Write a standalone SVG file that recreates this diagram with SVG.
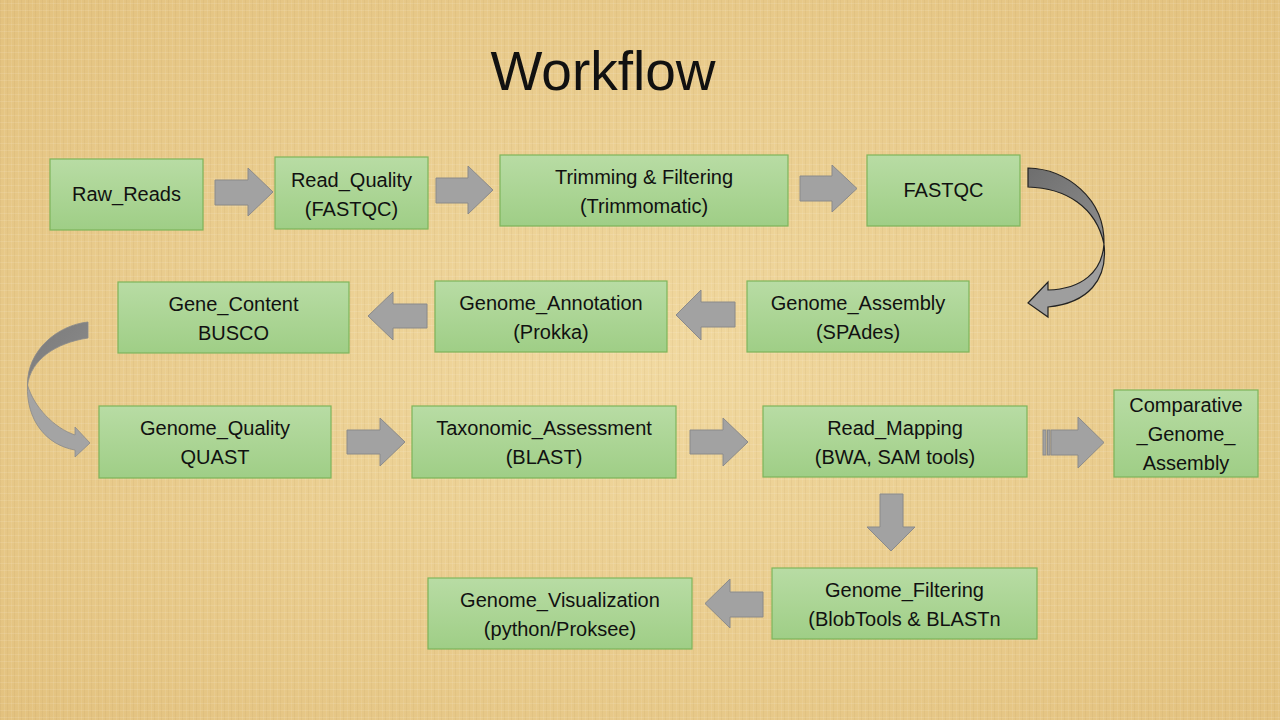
<svg xmlns="http://www.w3.org/2000/svg" width="1280" height="720" viewBox="0 0 1280 720">
<defs>
  <radialGradient id="bg" cx="50%" cy="50%" r="75%">
    <stop offset="0" stop-color="#f1d9a0"/>
    <stop offset="1" stop-color="#e2c07c"/>
  </radialGradient>
  <pattern id="tex" width="7" height="7" patternUnits="userSpaceOnUse">
    <rect x="0" y="0" width="1" height="7" fill="#b8925a" opacity="0.12"/>
    <rect x="0" y="3" width="7" height="1" fill="#ffffff" opacity="0.10"/>
    <rect x="4" y="0" width="1" height="7" fill="#ffffff" opacity="0.08"/>
  </pattern>
  <linearGradient id="green" x1="0" y1="0" x2="0" y2="1">
    <stop offset="0" stop-color="#b8dca4"/>
    <stop offset="1" stop-color="#9fce86"/>
  </linearGradient>
  <linearGradient id="curveDark" x1="0" y1="0" x2="1" y2="1">
    <stop offset="0" stop-color="#6e6e6e"/>
    <stop offset="1" stop-color="#8e8e8e"/>
  </linearGradient>
  <linearGradient id="curveLeft" x1="0" y1="0" x2="1" y2="1">
    <stop offset="0" stop-color="#7a7a7a"/>
    <stop offset="1" stop-color="#8c8c8c"/>
  </linearGradient>
  <style>
    .node rect { fill: url(#green); stroke: #7eb55a; stroke-width: 1.2; }
    .node text { font-family: "Liberation Sans", Arial, sans-serif; font-size: 20px; fill: #111; text-anchor: middle; }
    .arr { fill: #a2a2a2; stroke: #8a8a8a; stroke-width: 1; }
    .title { font-family: "Liberation Sans", Arial, sans-serif; font-size: 55px; fill: #111; text-anchor: middle; }
  </style>
</defs>

<rect x="0" y="0" width="1280" height="720" fill="url(#bg)"/>
<rect x="0" y="0" width="1280" height="720" fill="url(#tex)"/>

<text class="title" x="603" y="90">Workflow</text>

<g id="connectors">
  <!-- row 1 -->
  <path class="arr" d="M215,180 H248 V168 L273,192 L248,216 V205 H215 Z"/>
  <path class="arr" d="M436,178 H468 V166 L493,190 L468,214 V203 H436 Z"/>
  <path class="arr" d="M800,176 H832 V165 L857,188.5 L832,212 V201 H800 Z"/>
  <!-- right curved arrow -->
  <path fill="#9e9e9e" stroke="#222" stroke-width="1.2" d="M1104,244 C1102,272 1082,289 1048,290 V282 L1028,303 L1048,317 V307 C1088,303 1108,280 1104,244 Z"/>
  <path fill="url(#curveDark)" stroke="#222" stroke-width="1.2" d="M1028,168 C1066,169 1105,198 1104,244 C1096,207 1066,188 1028,187 Z"/>
  <!-- row 2 -->
  <path class="arr" d="M735,302 H701 V290 L676,315 L701,340 V327 H735 Z"/>
  <path class="arr" d="M427,304 H393 V292 L368,316 L393,340 V328 H427 Z"/>
  <!-- left curved arrow -->
  <path fill="#a4a4a4" stroke="#8a8a8a" stroke-width="0.8" d="M27.5,385 C34,407 54,428 75,435 V427 L90,443 L75,457 V450 C46,445 26,420 27.5,385 Z"/>
  <path fill="url(#curveLeft)" stroke="#8a8a8a" stroke-width="0.8" d="M88,322 C58,325 27,350 27.5,385 C31,360 55,343 88,338 Z"/>
  <!-- row 3 -->
  <path class="arr" d="M347,430 H380 V418 L405,442 L380,466 V454 H347 Z"/>
  <path class="arr" d="M690,430 H723 V418 L748,442 L723,466 V454 H690 Z"/>
  <rect class="arr" x="1043" y="430" width="3" height="25"/>
  <rect class="arr" x="1047.5" y="430" width="2.5" height="25"/>
  <path class="arr" d="M1051,430 H1078 V417 L1104,442.5 L1078,468 V455 H1051 Z"/>
  <!-- down -->
  <path class="arr" d="M880,494 H903 V527 H915 L891,551 L867,527 H880 Z"/>
  <!-- row 4 -->
  <path class="arr" d="M763,592 H730 V579 L705,603.5 L730,628 V617 H763 Z"/>
</g>

<g id="raw_reads" class="node">
  <rect x="50" y="159" width="153" height="71"/>
  <text x="126.5" y="201">Raw_Reads</text>
</g>
<g id="read_quality" class="node">
  <rect x="275" y="157" width="153" height="72"/>
  <text x="351.5" y="187">Read_Quality</text>
  <text x="351.5" y="216">(FASTQC)</text>
</g>
<g id="trimming" class="node">
  <rect x="500" y="155" width="288" height="71"/>
  <text x="644" y="184">Trimming &amp; Filtering</text>
  <text x="644" y="213">(Trimmomatic)</text>
</g>
<g id="fastqc" class="node">
  <rect x="867" y="155" width="153" height="71"/>
  <text x="943.5" y="197">FASTQC</text>
</g>
<g id="genome_assembly" class="node">
  <rect x="747" y="281" width="222" height="71"/>
  <text x="858" y="310">Genome_Assembly</text>
  <text x="858" y="339">(SPAdes)</text>
</g>
<g id="genome_annotation" class="node">
  <rect x="435" y="281" width="232" height="71"/>
  <text x="551" y="310">Genome_Annotation</text>
  <text x="551" y="339">(Prokka)</text>
</g>
<g id="gene_content" class="node">
  <rect x="118" y="282" width="231" height="71"/>
  <text x="233.5" y="311">Gene_Content</text>
  <text x="233.5" y="340">BUSCO</text>
</g>
<g id="genome_quality" class="node">
  <rect x="99" y="406" width="232" height="72"/>
  <text x="215" y="435">Genome_Quality</text>
  <text x="215" y="464">QUAST</text>
</g>
<g id="taxonomic" class="node">
  <rect x="412" y="406" width="264" height="72"/>
  <text x="544" y="435">Taxonomic_Assessment</text>
  <text x="544" y="464">(BLAST)</text>
</g>
<g id="read_mapping" class="node">
  <rect x="763" y="406" width="264" height="71"/>
  <text x="895" y="435">Read_Mapping</text>
  <text x="895" y="464">(BWA, SAM tools)</text>
</g>
<g id="comparative" class="node">
  <rect x="1114" y="390" width="144" height="87"/>
  <text x="1186" y="412">Comparative</text>
  <text x="1186" y="441">_Genome_</text>
  <text x="1186" y="470">Assembly</text>
</g>
<g id="genome_filtering" class="node">
  <rect x="772" y="568" width="265" height="71"/>
  <text x="904.5" y="597">Genome_Filtering</text>
  <text x="904.5" y="626">(BlobTools &amp; BLASTn</text>
</g>
<g id="genome_visualization" class="node">
  <rect x="428" y="578" width="264" height="71"/>
  <text x="560" y="607">Genome_Visualization</text>
  <text x="560" y="636">(python/Proksee)</text>
</g>
</svg>
